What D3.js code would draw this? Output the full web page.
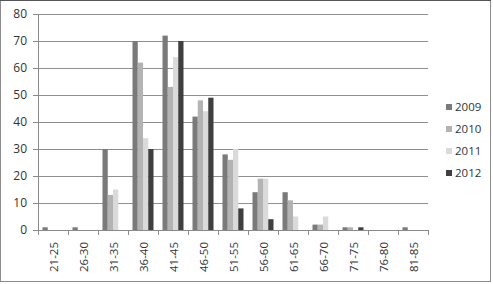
<!DOCTYPE html>
<html lang="en">
<head>
    <meta charset="UTF-8">
    <title>Age groups</title>
    <style>
        body { margin: 0; background: #fff; }
        text { font-family: "Open Sans", "Liberation Sans", sans-serif; fill: #333; }
    </style>
</head>
<body>
    <svg width="493" height="284" id="svg"></svg>
    <script src="https://d3js.org/d3.v7.min.js"></script>
    <script>
        let categories = ['21-25', '26-30', '31-35', '36-40', '41-45', '46-50', '51-55',
                          '56-60', '61-65', '66-70', '71-75', '76-80', '81-85']
        let years = ['2009', '2010', '2011', '2012']
        let v2009 = [1, 1, 30, 70, 72, 42, 28, 14, 14, 2, 1, 0, 1]
        let v2010 = [0, 0, 13, 62, 53, 48, 26, 19, 11, 2, 1, 0, 0]
        let v2011 = [0, 0, 15, 34, 64, 44, 30, 19, 5, 5, 0, 0, 0]
        let v2012 = [0, 0, 0, 30, 70, 49, 8, 4, 0, 0, 1, 0, 0]
        let yTicks = [0, 10, 20, 30, 40, 50, 60, 70, 80]
        let colors = ['#7a7a7a', '#b3b3b3', '#dadada', '#3f3f3f']

        let series = [v2009, v2010, v2011, v2012]
        let rows = categories.map((c, i) => ({ cat: c, vals: years.map((y, j) => ({ year: y, value: series[j][i] })) }))

        var svg = d3.select("svg")
        // outer chart frame
        svg.append("rect").attr("x", 0.5).attr("y", 0.5).attr("width", 490).attr("height", 281)
            .attr("fill", "none").attr("stroke", "#8c8c8c")
        svg.append("line").attr("x1", 0).attr("x2", 491).attr("y1", 0.5).attr("y2", 0.5).attr("stroke", "#555")

        var mLeft = 38, mTop = 14, width = 390, height = 216
        var g = svg.append("g").attr("transform", "translate(" + mLeft + "," + mTop + ")")

        var x = d3.scaleBand().domain(categories).range([0, width]).paddingInner(0.3).paddingOuter(0.15)
        var x1 = d3.scaleBand().domain(years).range([0, x.bandwidth()])
        var y = d3.scaleLinear().domain([0, 80]).range([height, 0])

        // gridlines
        g.selectAll(".grid").data(yTicks.slice(1)).enter().append("line")
            .attr("x1", 0).attr("x2", width)
            .attr("y1", d => Math.round(y(d)) + 0.5).attr("y2", d => Math.round(y(d)) + 0.5)
            .attr("stroke", "#8f8f8f").attr("stroke-width", 1)

        // bars
        var grp = g.selectAll(".cat").data(rows).enter().append("g")
            .attr("transform", d => "translate(" + x(d.cat) + ",0)")
        grp.selectAll("rect").data(d => d.vals).enter().append("rect")
            .attr("x", d => x1(d.year))
            .attr("y", d => y(d.value))
            .attr("width", x1.bandwidth())
            .attr("height", d => height - y(d.value))
            .attr("fill", (d, i) => colors[i])

        // y axis
        var yAxis = g.append("g")
            .call(d3.axisLeft(y).tickValues(yTicks).tickSize(5).tickSizeOuter(0).tickPadding(6))
        yAxis.select(".domain").attr("stroke", "#8a8a8a")
        yAxis.selectAll(".tick line").attr("stroke", "#8a8a8a")
        yAxis.selectAll("text").style("font-size", "12px").attr("fill", "#333")

        // x axis
        var xAxis = g.append("g").attr("transform", "translate(0," + height + ")")
        xAxis.append("line").attr("x1", 0).attr("x2", width).attr("y1", 0.5).attr("y2", 0.5).attr("stroke", "#8a8a8a")
        xAxis.selectAll(".xt").data(d3.range(categories.length + 1)).enter().append("line")
            .attr("x1", d => Math.round(d * width / categories.length) + 0.5)
            .attr("x2", d => Math.round(d * width / categories.length) + 0.5)
            .attr("y1", 0).attr("y2", 5).attr("stroke", "#8a8a8a")
        xAxis.selectAll(".xl").data(categories).enter().append("text")
            .attr("transform", d => "translate(" + (x(d) + x.bandwidth() / 2 + 4.5) + ",12) rotate(-90)")
            .attr("text-anchor", "end")
            .style("font-size", "11.5px")
            .text(d => d)

        // legend
        var lg = svg.append("g").attr("transform", "translate(446,101)")
        var item = lg.selectAll(".lg").data(years).enter().append("g")
            .attr("transform", (d, i) => "translate(0," + (i * 22) + ")")
        item.append("rect").attr("x", 0).attr("y", 3).attr("width", 6).attr("height", 6)
            .attr("fill", (d, i) => colors[i])
        item.append("text").attr("x", 9).attr("y", 10).style("font-size", "11.5px").text(d => d)
    </script>
</body>
</html>
